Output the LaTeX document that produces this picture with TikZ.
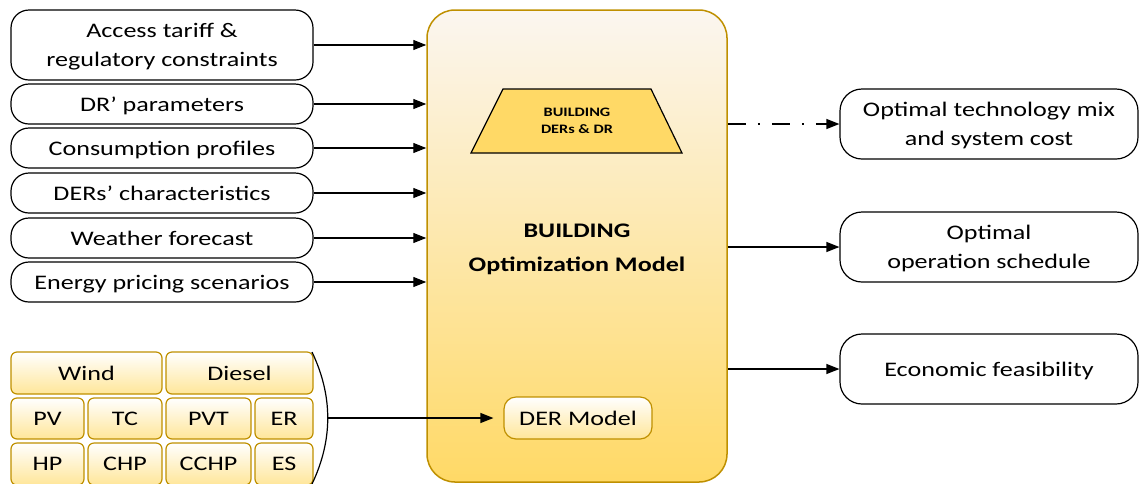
\documentclass[tikz,border=0pt]{standalone}
\usepackage{fontspec}
\setmainfont{Carlito}[FakeStretch=1.26]
\usetikzlibrary{arrows.meta}
\definecolor{goldline}{RGB}{191,144,0}
\definecolor{maintop}{RGB}{251,246,240}
\definecolor{mainmid}{RGB}{254,240,205}
\definecolor{mainbot}{RGB}{255,217,102}
\definecolor{cellbot}{RGB}{255,230,153}
\tikzset{
>={Triangle[length=13pt,width=10pt]}, % filled tips on all connectors
txt/.style={font=\fontsize{20.7}{29.5}\selectfont, align=center, text depth=0pt},
inbox/.style={txt, draw, line width=1.2pt, rounded corners=18pt, minimum width=302pt, minimum height=40pt, inner sep=0pt}, % input data
outbox/.style={txt, draw, line width=1.2pt, rounded corners=22pt, minimum width=298pt, minimum height=70pt, inner sep=0pt}, % results
cell/.style={txt, draw=goldline, line width=1.2pt, rounded corners=6pt, top color=white, bottom color=cellbot, inner sep=0pt}, % technologies
link/.style={->, line width=1.2pt},
}

\begin{document}
\begin{tikzpicture}[x=1pt, y=-1pt]
        \useasboundingbox (0,0) rectangle (1139,483);
        % optimization model
        \node[draw=goldline, line width=1.5pt, rounded corners=28pt, top color=maintop, middle color=mainmid, bottom color=mainbot,
              minimum width=300pt, minimum height=472pt] (model) at (577,246) {};
        \node[txt, font=\fontsize{20.7}{34}\selectfont\bfseries] (title) at (577,248) {BUILDING\\Optimization Model};
        % trapezoid with the building's DERs
        \draw[line width=1.2pt, fill=mainbot] (503,89) -- (651,89) -- (682,153) -- (471,153) -- cycle;
        \node[align=center, font=\fontsize{12.9}{17}\selectfont\bfseries] (bld) at (577,121) {BUILDING\\DERs \& DR};
        \node[cell, rounded corners=12pt, minimum width=148pt, minimum height=42pt] (dermod) at (578,418) {DER Model};
        % inputs
        \node[inbox, minimum height=70pt] (tariff) at (162,45) {Access tariff \&\\regulatory constraints};
        \node[inbox] (drpar) at (162,104) {DR’ parameters};
        \node[inbox] (cons) at (162,148) {Consumption profiles};
        \node[inbox] (derchar) at (162,193) {DERs’ characteristics};
        \node[inbox] (weather) at (162,238) {Weather forecast};
        \node[inbox] (price) at (162,282) {Energy pricing scenarios};
        \foreach \src in {tariff, drpar, cons, derchar, weather, price}
            \draw[link] (\src) -- (\src -| model.west);
        % outputs
        \node[outbox] (mix) at (989,124) {Optimal technology mix\\and system cost};
        \node[outbox] (sched) at (989,247) {Optimal\\operation schedule};
        \node[outbox] (econ) at (989,369) {Economic feasibility};
        \draw[link, dash pattern=on 18pt off 12pt on 2pt off 12pt] (model.east |- mix) -- (mix);
        \draw[link] (model.east |- sched) -- (sched);
        \draw[link] (model.east |- econ) -- (econ);
        % technologies
        \node[cell, minimum width=151pt, minimum height=42pt] (wind) at (86.5,373) {Wind};
        \node[cell, minimum width=147pt, minimum height=42pt] (diesel) at (239.5,373) {Diesel};
        \foreach \cx/\cw/\up/\dn in {47.5/73/PV/HP, 125/74/TC/CHP, 208.5/85/PVT/CCHP, 284/58/ER/ES} {
            \node[cell, minimum width=\cw pt, minimum height=41pt] (\up) at (\cx,418.5) {\up};
            \node[cell, minimum width=\cw pt, minimum height=42pt] (\dn) at (\cx,464) {\dn};
        }
        % bracket to the DER model
        \coordinate (brtop) at (312,352);
        \coordinate (brbot) at (312,484);
        \coordinate (brtip) at (328,418);
        \draw[line width=1.2pt] (brtop) .. controls (333,396) and (333,440) .. (brbot);
        \draw[link, shorten >=10pt] (brtip) -- (dermod);
    \end{tikzpicture}
\end{document}
